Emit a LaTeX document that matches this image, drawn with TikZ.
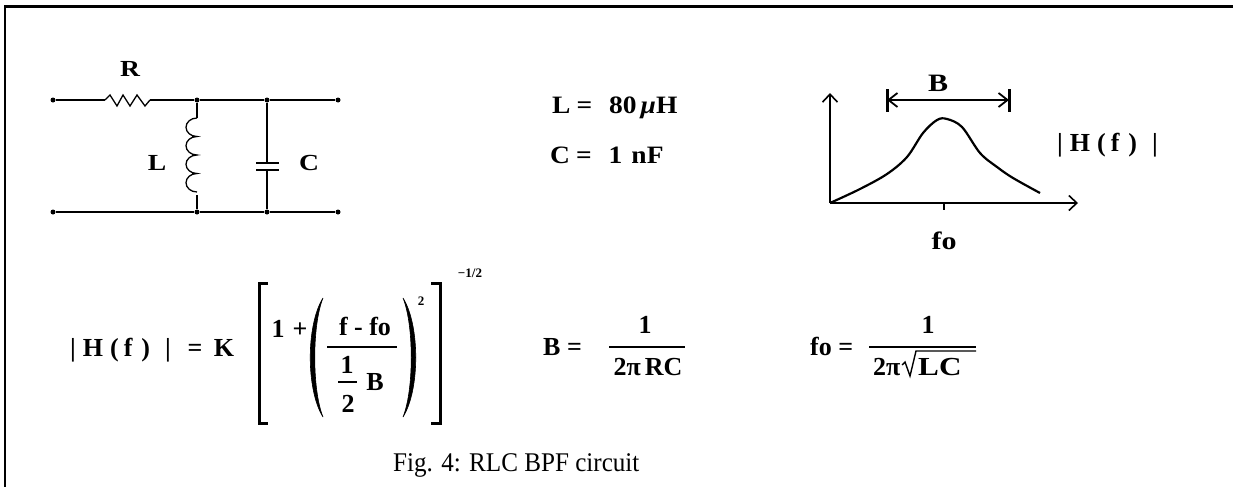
\documentclass[tikz,border=0pt]{standalone}
\usepackage{fontspec}
\setmainfont{Liberation Serif}
\newfontfamily\eqf[FakeStretch=1.1]{Liberation Serif}
\newfontfamily\wf[FakeStretch=1.2]{Liberation Serif}
\newfontfamily\capf[FakeStretch=0.93]{Liberation Serif}
\usetikzlibrary{arrows.meta}
\newcommand{\Hfx}{|\hspace{7pt}H\hspace{7pt}(\hspace{5pt}f\hspace{9pt})\hspace{15pt}|}
\begin{document}
\begin{tikzpicture}[x=1pt,y=-1pt,
  wire/.style={line width=1.6},
  thinw/.style={line width=1.3},
  dot/.style={circle,fill,inner sep=0,minimum size=5},
  lbl/.style={font=\wf\bfseries\fontsize{23}{23}\selectfont,inner sep=0,anchor=base},
  eq/.style={font=\bfseries\fontsize{26}{26}\selectfont,inner sep=0,anchor=base},
  vals/.style={font=\eqf\bfseries\fontsize{25}{25}\selectfont,inner sep=0,anchor=base west},
  glbl/.style={font=\wf\bfseries\fontsize{25}{25}\selectfont,inner sep=0,anchor=base},
  supx/.style={font=\bfseries\fontsize{13}{13}\selectfont,inner sep=0,anchor=base},
  axis/.style={line width=2.4,-{Straight Barb[length=8,width=15,line width=1.6]}},
  fracbar/.style={line width=1.6},
  brk/.style={line width=3},
  parf/.style={fill=black,draw=black,line width=0.6}]
\useasboundingbox (0,0) rectangle (1233,487);
\fill[white] (0,0) rectangle (1233,487);
% frame
\draw[line width=2.4] (1233,6.5) -- (5,6.5) -- (5,487);
% ---------- circuit ----------
\node[dot] (t1) at (53,100) {};
\node[dot] (t2) at (338,100) {};
\node[dot] (b1) at (53,212) {};
\node[dot] (b2) at (338,212) {};
\node[dot] (j1) at (197,100) {};
\node[dot] (j2) at (267,100) {};
\node[dot] (k1) at (197,212) {};
\node[dot] (k2) at (267,212) {};
\coordinate (ra) at (105,100);
\coordinate (rb) at (150,100);
\draw[wire] (t1) -- (ra);
\draw[thinw] (ra) -- (110,95) -- (117,106) -- (123,95) -- (130,106) -- (137,95) -- (145,106) -- (rb);
\draw[wire] (rb) -- (j1) -- (j2) -- (t2);
\draw[wire] (b1) -- (k1) -- (k2) -- (b2);
% inductor
\coordinate (la) at (197,118);
\coordinate (lb) at (197,195);
\draw[wire] (j1) -- (la);
\draw[thinw] (la) arc[start angle=270,end angle=90,x radius=11,y radius=9.25]
  arc[start angle=270,end angle=90,x radius=11,y radius=9.25]
  arc[start angle=270,end angle=90,x radius=11,y radius=9.25]
  arc[start angle=270,end angle=90,x radius=11,y radius=9.25];
\draw[wire] (lb) -- (k1);
% capacitor
\coordinate (ca) at (267,163);
\coordinate (cb) at (267,170);
\draw[wire] (j2) -- (ca);
\draw[line width=2] (256,163) -- (279,163);
\draw[line width=2] (256,170) -- (279,170);
\draw[wire] (cb) -- (k2);
\node[lbl] (lR) at (130,76) {R};
\node[lbl] (lL) at (157,170) {L};
\node[lbl] (lC) at (309,170) {C};
% values
\node[vals] (vL) at (552,113) {L\hspace{6pt}=\hspace{17pt}80\hspace{4pt}\textit{μ}H};
\node[vals] (vC) at (550,163) {C\hspace{6pt}=\hspace{17pt}1\hspace{9pt}nF};
% ---------- graph ----------
\coordinate (o) at (830,203);
\coordinate (ytop) at (830,93);
\coordinate (xend) at (1078,203);
\draw[axis] (o) -- (ytop);
\draw[axis] (o) -- (xend);
\draw[line width=2.2] (944,203) -- (944,210);
\draw[line width=2.2] plot[smooth,tension=0.55] coordinates {(830,203) (860,189) (887,174) (907,157) (923,133) (937,120) (947,119) (962,127) (980,153) (997,167) (1013,178) (1040,193)};
\coordinate (bl) at (887,100);
\coordinate (br) at (1009,100);
\draw[line width=3] (887,89) -- (887,112);
\draw[line width=3] (1009,89) -- (1009,112);
\draw[line width=1.8,{Straight Barb[length=9,width=14]}-{Straight Barb[length=9,width=14]}] (bl) -- (br);
\node[glbl] (gB) at (938,92) {B};
\node[glbl] (gfo) at (944,249) {fo};
\node[eq,anchor=base west] (gH) at (1057,151) {\Hfx};
% ---------- formula ----------
\node[eq,anchor=base west] (fH) at (70,356) {\Hfx};
\node[eq] (feq) at (195,356) {=};
\node[eq] (fK) at (224,356) {K};
\draw[brk] (268,283) -| (259,423) -- (268,423);
\node[eq] (f1) at (278,337) {1};
\node[eq] (fp) at (300,337) {+};
\path[parf] (323,298) .. controls (306,325) and (306,390) .. (323,417)
  .. controls (312,390) and (312,325) .. (323,298) -- cycle;
\node[eq] (fnum) at (365,335) {f - fo};
\draw[fracbar] (327,347) -- (397,347);
\node[eq] (fh1) at (347,373) {1};
\draw[fracbar] (338,382) -- (357,382);
\node[eq] (fh2) at (348,412) {2};
\node[eq] (fB) at (375,390) {B};
\path[parf] (403,298) .. controls (420,325) and (420,390) .. (403,417)
  .. controls (414,390) and (414,325) .. (403,298) -- cycle;
\node[supx] (fsq) at (421,305) {2};
\draw[brk] (431,283) -| (440,423) -- (431,423);
\node[supx] (fexp) at (470,277) {−1/2};
% B =
\node[eq,anchor=base west] (bBeq) at (543,355) {B =};
\node[eq] (bnum) at (645,333) {1};
\draw[fracbar] (609,347) -- (685,347);
\node[eq] (bden) at (648,375) {2π\hspace{4pt}RC};
% fo =
\node[eq,anchor=base west] (ofeq) at (810,355) {fo =};
\node[eq] (onum) at (928,333) {1};
\draw[fracbar] (869,347) -- (976,347);
\node[eq,anchor=base west] (o2pi) at (873,375) {2π};
\draw[line width=1.4] (902,365) -- (905,362) -- (910,376) -- (916,351) -- (976,351);
\node[eq,font=\wf\bfseries\fontsize{26}{26}\selectfont,anchor=base west] (oLC) at (918,375) {LC};
% caption
\node[font=\capf\fontsize{27}{27}\selectfont,inner sep=0,anchor=base west] (cap) at (393,471) {Fig. 4: RLC BPF circuit};
\end{tikzpicture}
\end{document}
